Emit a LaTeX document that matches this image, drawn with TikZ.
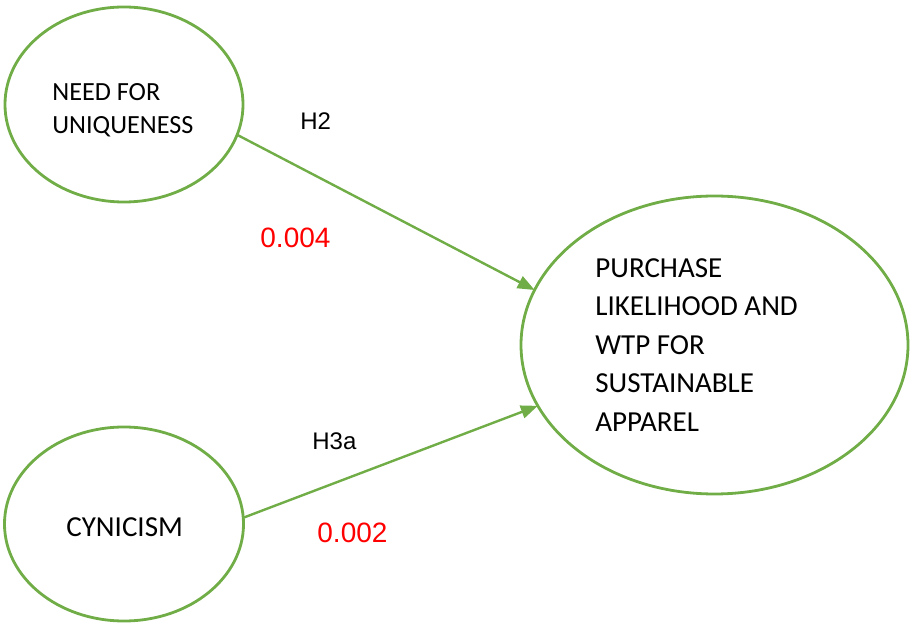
\documentclass[tikz,border=0pt]{standalone}
\usepackage{fontspec}
\setmainfont{Carlito}
\newfontfamily\labelfont{Liberation Sans}
\usetikzlibrary{arrows.meta,shapes.geometric}
\definecolor{pathgreen}{HTML}{70AD47}
\definecolor{pvalred}{HTML}{FF0000}
\begin{document}
\begin{tikzpicture}[x=0.5pt,y=-0.5pt,
  construct/.style={ellipse,draw=pathgreen,line width=1.4pt,inner sep=0pt,outer sep=0pt},
  ctext/.style={inner sep=0pt,align=left,text=black},
  hyp/.style={inner sep=0pt,font=\labelfont\fontsize{12}{14}\selectfont,text=black},
  pval/.style={inner sep=0pt,font=\labelfont\fontsize{14}{16}\selectfont,text=pvalred},
  path/.style={draw=pathgreen,line width=1.2pt,-{Triangle[length=8.5pt,width=6.5pt]}}]
  \useasboundingbox (0,0) rectangle (910,624);

  % constructs
  \node[construct,minimum width=119pt,minimum height=97.5pt] (nfu) at (124,104.5) {};
  \node[construct,minimum width=119.5pt,minimum height=97pt] (cyn) at (124,524) {};
  \node[construct,minimum width=193.5pt,minimum height=149pt] (pl) at (714.5,345) {};

  \node[ctext,anchor=north west,font=\fontsize{13.1}{16.5}\selectfont] (nfutext) at (52,83)
    {NEED FOR\\UNIQUENESS};
  \node[ctext,anchor=base west,font=\fontsize{14.5}{17}\selectfont] (cyntext) at (66,537)
    {CYNICISM};
  \node[ctext,anchor=north west,font=\fontsize{14.5}{19.25}\selectfont] (pltext) at (595,258)
    {PURCHASE\\LIKELIHOOD AND\\WTP FOR\\SUSTAINABLE\\APPAREL};

  % structural paths
  \draw[path] (nfu.-15.1) -- (pl.163.7);
  \draw[path] (cyn.3.7) -- (pl.199.6);

  % hypothesis labels and p-values
  \node[hyp,anchor=base west] (h2) at (300,130) {H2};
  \node[pval,anchor=base west] (p2) at (260,248) {0.004};
  \node[hyp,anchor=base west] (h3a) at (312,450) {H3a};
  \node[pval,anchor=base west] (p3a) at (317,543) {0.002};
\end{tikzpicture}
\end{document}
